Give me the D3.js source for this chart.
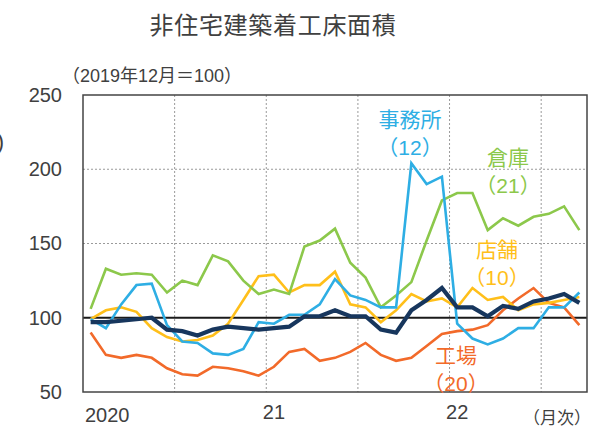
<!DOCTYPE html>
<html>
<head>
<meta charset="utf-8">
<script src="https://cdn.jsdelivr.net/npm/d3@7"></script>
<style>
  body { margin: 0; background: #fff; }
  svg text { font-family: 'Liberation Sans', 'Noto Sans CJK JP', sans-serif; fill: #404040; }
</style>
</head>
<body>
<div id="chart"></div>
<script>
// months Jan 2020 - Sep 2022, index 2019/12 = 100
var months = [
  '2020-01', '2020-02', '2020-03', '2020-04', '2020-05', '2020-06',
  '2020-07', '2020-08', '2020-09', '2020-10', '2020-11', '2020-12',
  '2021-01', '2021-02', '2021-03', '2021-04', '2021-05', '2021-06',
  '2021-07', '2021-08', '2021-09', '2021-10', '2021-11', '2021-12',
  '2022-01', '2022-02', '2022-03', '2022-04', '2022-05', '2022-06',
  '2022-07', '2022-08', '2022-09'
];

var office = [99, 93, 109, 122, 123, 95, 84, 83, 76, 75, 79, 97,
  96, 102, 102, 109, 126, 115, 112, 107, 107, 204, 190, 195,
  96, 86, 82, 86, 93, 93, 107, 107, 117];

var warehouse = [106, 133, 129, 130, 129, 117, 125, 122, 142, 138, 125, 116,
  119, 116, 148, 152, 160, 137, 127, 107, 115, 124, 152, 179,
  184, 184, 159, 167, 162, 168, 170, 175, 159];

var store = [99, 105, 107, 104, 93, 87, 84, 85, 88, 96, 112, 128,
  129, 117, 122, 122, 131, 109, 107, 97, 105, 116, 111, 113,
  107, 120, 112, 114, 105, 109, 110, 112, 114];

var factory = [90, 75, 73, 75, 73, 66, 62, 61, 67, 66, 64, 61,
  67, 77, 79, 71, 73, 77, 83, 75, 71, 73, 81, 89,
  91, 92, 95, 105, 113, 120, 110, 107, 95];

var total = [97, 97, 98, 99, 100, 92, 91, 88, 92, 94, 93, 92,
  93, 94, 101, 101, 105, 101, 101, 92, 90, 105, 112, 120,
  107, 107, 101, 108, 106, 111, 113, 116, 110];

var yTicks = [50, 100, 150, 200, 250];
var yGrid = [150, 200];
var xTickLabels = [
  { month: '2020-01', text: '2020' },
  { month: '2021-01', text: '21' },
  { month: '2022-01', text: '22' }
];

var seriesList = [
  { name: '工場', values: factory, color: '#f26a2a', width: 2.6 },
  { name: '店舗', values: store, color: '#ffbf1a', width: 2.6 },
  { name: '倉庫', values: warehouse, color: '#8cc84b', width: 2.6 },
  { name: '事務所', values: office, color: '#2eaee4', width: 2.6 },
  { name: '合計', values: total, color: '#17365d', width: 4.2 }
];

var labelList = [
  { lines: ['事務所', '（12）'], color: '#2eaee4', x: 410, y: 120 },
  { lines: ['倉庫', '（21）'], color: '#8cc84b', x: 508, y: 158 },
  { lines: ['店舗', '（10）'], color: '#ffbf1a', x: 497, y: 250 },
  { lines: ['工場', '（20）'], color: '#f26a2a', x: 456, y: 356 }
];

var width = 598, height = 432;
var margin = { left: 83, right: 11, top: 95, bottom: 40 };

var svg = d3.select('#chart').append('svg')
  .attr('width', width)
  .attr('height', height);

var x = d3.scaleBand()
  .domain(months)
  .range([margin.left, width - margin.right])
  .padding(0);

var y = d3.scaleLinear()
  .domain([50, 250])
  .range([height - margin.bottom, margin.top]);

function xMid(m) { return x(m) + x.bandwidth() / 2; }

// title
svg.append('text')
  .attr('x', 273)
  .attr('y', 34)
  .attr('text-anchor', 'middle')
  .attr('font-size', 24)
  .attr('letter-spacing', 0.7)
  .text('非住宅建築着工床面積');

svg.append('text')
  .attr('x', 62)
  .attr('y', 82)
  .attr('font-size', 18)
  .text('（2019年12月＝100）');

// text cut by the left edge, as in the source
svg.append('text')
  .attr('x', 4)
  .attr('y', 149)
  .attr('text-anchor', 'end')
  .attr('font-size', 22)
  .text(')');

// grid
svg.append('g').selectAll('line')
  .data(yGrid)
  .join('line')
  .attr('x1', margin.left)
  .attr('x2', width - margin.right)
  .attr('y1', function(d) { return y(d); })
  .attr('y2', function(d) { return y(d); })
  .attr('stroke', '#9a9a9a')
  .attr('stroke-width', 1)
  .attr('stroke-dasharray', '2,2');

var halfYears = months.filter(function(m, i) {
  return i > 0 && (m.slice(5) === '01' || m.slice(5) === '07');
});

svg.append('g').selectAll('line')
  .data(halfYears)
  .join('line')
  .attr('x1', function(d) { return x(d); })
  .attr('x2', function(d) { return x(d); })
  .attr('y1', margin.top)
  .attr('y2', height - margin.bottom)
  .attr('stroke', '#9a9a9a')
  .attr('stroke-width', 1)
  .attr('stroke-dasharray', '2,2');

// y axis labels
var yAxis = d3.axisLeft(y).tickValues(yTicks).tickSize(0).tickPadding(21);
svg.append('g')
  .attr('transform', 'translate(' + margin.left + ',0)')
  .call(yAxis)
  .call(function(g) { g.select('.domain').remove(); })
  .selectAll('text')
  .attr('font-size', 20)
  .attr('fill', '#404040');

// x labels
svg.append('g').selectAll('text')
  .data(xTickLabels)
  .join('text')
  .attr('x', function(d, i) { return i === 0 ? x(d.month) + 2 : xMid(d.month); })
  .attr('y', function(d, i) { return i === 0 ? 422 : 419; })
  .attr('text-anchor', function(d, i) { return i === 0 ? 'start' : 'middle'; })
  .attr('font-size', 20)
  .text(function(d) { return d.text; });

svg.append('text')
  .attr('x', 557)
  .attr('y', 424)
  .attr('text-anchor', 'middle')
  .attr('font-size', 17)
  .text('（月次）');

// 100 line
svg.append('line')
  .attr('x1', margin.left)
  .attr('x2', width - margin.right)
  .attr('y1', y(100))
  .attr('y2', y(100))
  .attr('stroke', '#1a1a1a')
  .attr('stroke-width', 2.2);

// lines
var line = d3.line()
  .x(function(d, i) { return xMid(months[i]); })
  .y(function(d) { return y(d); });

svg.append('g').selectAll('path')
  .data(seriesList)
  .join('path')
  .attr('d', function(d) { return line(d.values); })
  .attr('fill', 'none')
  .attr('stroke', function(d) { return d.color; })
  .attr('stroke-width', function(d) { return d.width; })
  .attr('stroke-linejoin', 'miter');

// frame
svg.append('rect')
  .attr('x', margin.left)
  .attr('y', margin.top)
  .attr('width', width - margin.left - margin.right)
  .attr('height', height - margin.top - margin.bottom)
  .attr('fill', 'none')
  .attr('stroke', '#444')
  .attr('stroke-width', 1.5);

// series labels
labelList.forEach(function(l) {
  var t = svg.append('text')
    .attr('text-anchor', 'middle')
    .attr('font-size', 21)
    .style('fill', l.color);
  l.lines.forEach(function(s, i) {
    t.append('tspan')
      .attr('x', l.x)
      .attr('y', l.y + 7 + i * 28)
      .text(s);
  });
});
</script>
</body>
</html>
